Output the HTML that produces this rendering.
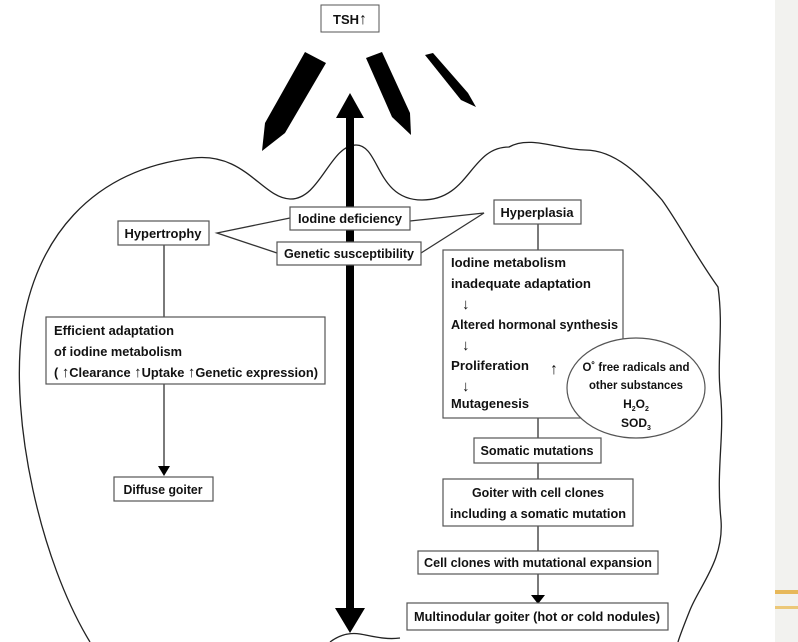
<!DOCTYPE html>
<html><head><meta charset="utf-8"><style>
html,body{margin:0;padding:0;background:#fff;}
svg{display:block;}
text{font-family:"Liberation Sans",sans-serif;font-weight:bold;font-size:13px;fill:#111;}
</style></head><body>
<svg width="798" height="642" viewBox="0 0 798 642" xmlns="http://www.w3.org/2000/svg">
<rect x="775" y="0" width="23" height="642" fill="#f2f2ef"/>
<rect x="775" y="590" width="23" height="4" fill="#e7b85a"/>
<rect x="775" y="606" width="23" height="3" fill="#ecc878"/>
<!-- outline -->
<path d="M90,642 C40,560 10,420 22,330 C35,240 90,170 193,158 C245,152 262,198 290,199 C320,200 330,145 356,145 C380,145 376,200 422,200 C470,200 470,147 509,147 C530,135 560,150 585,150 C615,150 640,175 662,200 C680,225 695,255 718,287 C724,330 716,360 721,400 C724,440 716,470 721,520 C724,560 700,585 690,610 C684,625 680,635 678,642" fill="none" stroke="#222" stroke-width="1.3"/>
<path d="M330,642 C338,636 348,632 360,634 C372,636 385,640 400,638" fill="none" stroke="#222" stroke-width="1.3"/>
<!-- wedges -->
<polygon points="305,52 326,63 285,133 262,151 265,123" fill="#000"/>
<polygon points="366,58 382,52 410,113 411,135 392,117" fill="#000"/>
<polygon points="425,55 433,53 468,93 476,107 461,100" fill="#000"/>
<!-- big double arrow -->
<rect x="346" y="116" width="8" height="494" fill="#000"/>
<polygon points="350,93 336,118 364,118" fill="#000"/>
<polygon points="350,633 335,608 365,608" fill="#000"/>
<!-- TSH -->
<rect x="321" y="5" width="58" height="27" fill="#fff" stroke="#555"/>
<text x="350" y="24" text-anchor="middle">TSH<tspan font-size="16">↑</tspan></text>
<!-- connectors -->
<g stroke="#333" stroke-width="1.3" fill="none">
<polyline points="290,218 217,233 277,253"/>
<polyline points="410,221 484,213 421,253"/>
<line x1="538" y1="224" x2="538" y2="250"/>
<line x1="164" y1="245" x2="164" y2="318"/>
<line x1="164" y1="384" x2="164" y2="467"/>
<line x1="538" y1="418" x2="538" y2="438"/>
<line x1="538" y1="463" x2="538" y2="479"/>
<line x1="538" y1="526" x2="538" y2="551"/>
<line x1="538" y1="574" x2="538" y2="597"/>
<line x1="566" y1="385" x2="510" y2="385"/>
</g>
<polygon points="164,476 158,466 170,466" fill="#000"/>
<polygon points="538,604 531,595 545,595" fill="#000"/>
<polygon points="504,385 511,381 511,389" fill="#333"/>
<!-- boxes -->
<g fill="#fff" stroke="#555" stroke-width="1.2">
<rect x="290" y="207" width="120" height="23"/>
<rect x="277" y="242" width="144" height="23"/>
<rect x="118" y="221" width="91" height="24"/>
<rect x="494" y="200" width="87" height="24"/>
<rect x="443" y="250" width="180" height="168"/>
<rect x="46" y="317" width="279" height="67"/>
<rect x="114" y="477" width="99" height="24"/>
<rect x="474" y="438" width="127" height="25"/>
<rect x="443" y="479" width="190" height="47"/>
<rect x="418" y="551" width="240" height="23"/>
<rect x="407" y="603" width="261" height="27"/>
<ellipse cx="636" cy="388" rx="69" ry="50"/>
</g>
<text x="350" y="223" text-anchor="middle" textLength="104" lengthAdjust="spacingAndGlyphs">Iodine deficiency</text>
<text x="349" y="258" text-anchor="middle" textLength="130" lengthAdjust="spacingAndGlyphs">Genetic susceptibility</text>
<text x="163" y="238" text-anchor="middle" textLength="77" lengthAdjust="spacingAndGlyphs">Hypertrophy</text>
<text x="537" y="217" text-anchor="middle" textLength="73" lengthAdjust="spacingAndGlyphs">Hyperplasia</text>
<text x="451" y="267" textLength="115" lengthAdjust="spacingAndGlyphs">Iodine metabolism</text>
<text x="451" y="288" textLength="140" lengthAdjust="spacingAndGlyphs">inadequate adaptation</text>
<text x="462" y="309" style="font-size:15px">↓</text>
<text x="451" y="329" textLength="167" lengthAdjust="spacingAndGlyphs">Altered hormonal synthesis</text>
<text x="462" y="350" style="font-size:15px">↓</text>
<text x="451" y="370" textLength="78" lengthAdjust="spacingAndGlyphs">Proliferation</text>
<text x="550" y="374" style="font-size:16px">↑</text>
<text x="462" y="391" style="font-size:15px">↓</text>
<text x="451" y="408" textLength="78" lengthAdjust="spacingAndGlyphs">Mutagenesis</text>
<text x="636" y="371" text-anchor="middle" textLength="107" lengthAdjust="spacingAndGlyphs" style="font-size:12px">O˚ free radicals and</text>
<text x="636" y="389" text-anchor="middle" textLength="94" lengthAdjust="spacingAndGlyphs" style="font-size:12px">other substances</text>
<text x="636" y="408" text-anchor="middle" style="font-size:12px">H<tspan font-size="7" dy="3">2</tspan><tspan dy="-3">O</tspan><tspan font-size="7" dy="3">2</tspan></text>
<text x="636" y="427" text-anchor="middle" style="font-size:12px">SOD<tspan font-size="7" dy="3">3</tspan></text>
<text x="54" y="335" textLength="120" lengthAdjust="spacingAndGlyphs">Efficient adaptation</text>
<text x="54" y="356" textLength="128" lengthAdjust="spacingAndGlyphs">of iodine metabolism</text>
<text x="54" y="377" textLength="264" lengthAdjust="spacingAndGlyphs">( <tspan font-size="15">↑</tspan>Clearance <tspan font-size="15">↑</tspan>Uptake <tspan font-size="15">↑</tspan>Genetic expression)</text>
<text x="163" y="494" text-anchor="middle" textLength="79" lengthAdjust="spacingAndGlyphs">Diffuse goiter</text>
<text x="537" y="455" text-anchor="middle" textLength="113" lengthAdjust="spacingAndGlyphs">Somatic mutations</text>
<text x="538" y="497" text-anchor="middle" textLength="132" lengthAdjust="spacingAndGlyphs">Goiter with cell clones</text>
<text x="538" y="518" text-anchor="middle" textLength="176" lengthAdjust="spacingAndGlyphs">including a somatic mutation</text>
<text x="538" y="567" text-anchor="middle" textLength="228" lengthAdjust="spacingAndGlyphs">Cell clones with mutational expansion</text>
<text x="537" y="621" text-anchor="middle" textLength="246" lengthAdjust="spacingAndGlyphs">Multinodular goiter (hot or cold nodules)</text>
</svg>
</body></html>
